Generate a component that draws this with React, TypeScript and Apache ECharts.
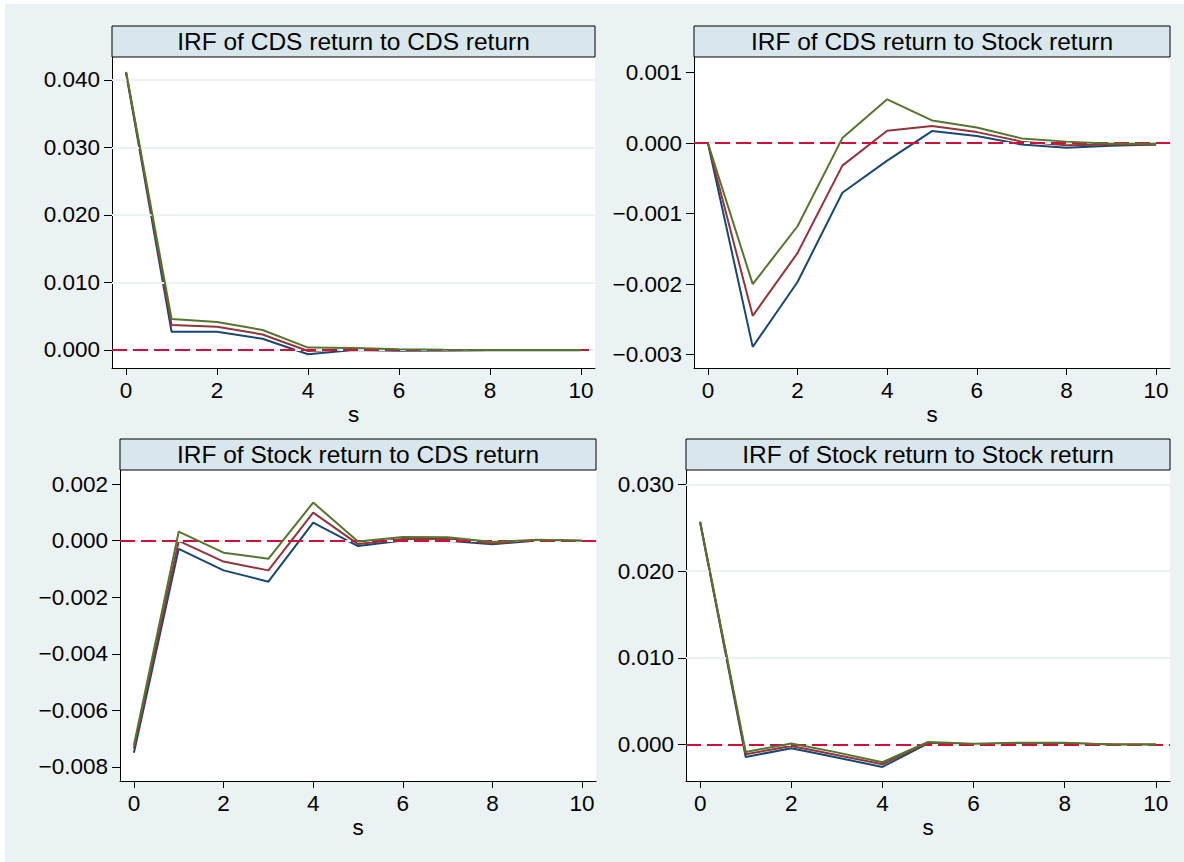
import React, { useEffect, useRef } from "react";
import * as echarts from "echarts";

const steps = [0, 1, 2, 3, 4, 5, 6, 7, 8, 9, 10];
const xTicks = [0, 2, 4, 6, 8, 10];

const titles = [
  "IRF of CDS return to CDS return",
  "IRF of CDS return to Stock return",
  "IRF of Stock return to CDS return",
  "IRF of Stock return to Stock return",
];

// Panel 1: CDS return -> CDS return
const cdsCdsLower = [0.041, 0.0027, 0.0027, 0.00167, -0.00064, 0.0, -0.0001, -0.00006, -0.00005, -0.00004, -0.00003];
const cdsCdsIrf = [0.0411, 0.0037, 0.00345, 0.0023, -0.00015, 0.0001, 0.0, -0.00003, -0.00002, -0.00002, -0.00001];
const cdsCdsUpper = [0.0412, 0.00459, 0.00415, 0.00296, 0.00035, 0.0003, 0.0001, 0.00002, 0.00001, 0.0, 0.0];

// Panel 2: CDS return -> Stock return
const cdsStockLower = [0, -0.00289, -0.00197, -0.000705, -0.00025, 0.00017, 0.0001, -0.00002, -0.000066, -0.00004, -0.00002];
const cdsStockIrf = [0, -0.00245, -0.00156, -0.00032, 0.000175, 0.00024, 0.000155, 0.00002, -0.00003, -0.00002, -0.00002];
const cdsStockUpper = [0, -0.002, -0.00118, 0.00007, 0.00062, 0.00032, 0.00022, 0.000066, 0.00002, -0.00001, -0.00001];

// Panel 3: Stock return -> CDS return
const stockCdsLower = [-0.0075, -0.00029, -0.00105, -0.00145, 0.00064, -0.00019, 0.00001, 0.0, -0.00013, 0.00001, -0.00001];
const stockCdsIrf = [-0.00735, -0.00001, -0.00074, -0.00105, 0.00099, -0.00012, 0.00006, 0.00006, -0.0001, 0.00002, 0.0];
const stockCdsUpper = [-0.00723, 0.00032, -0.000425, -0.00064, 0.00135, -0.00003, 0.00013, 0.00012, -0.00005, 0.00003, 0.0];

// Panel 4: Stock return -> Stock return
const stockStockLower = [0.0256, -0.00143, -0.00043, -0.0015, -0.00258, 0.00015, 0.00001, 0.0001, 0.0001, 0.0, -0.00001];
const stockStockIrf = [0.02565, -0.00112, -0.00016, -0.0012, -0.00227, 0.00022, 0.00005, 0.00015, 0.00015, 0.00001, 0.0];
const stockStockUpper = [0.0257, -0.00085, 0.00012, -0.0009, -0.00204, 0.0003, 0.0001, 0.00022, 0.00022, 0.00002, 0.0];

const yTicks1 = [0, 0.01, 0.02, 0.03, 0.04];
const yTicks2 = [-0.003, -0.002, -0.001, 0, 0.001];
const yTicks3 = [-0.008, -0.006, -0.004, -0.002, 0, 0.002];
const yTicks4 = [0, 0.01, 0.02, 0.03];

const FONT = '"Liberation Sans", Arial, Helvetica, sans-serif';
const NAVY = "#1a476f";
const MAROON = "#90353b";
const GREEN = "#55752f";
const BG = "#eaf2f3";
const GRIDLINE = "#eaf2f3";
const ZERO = "#d0103a";

const panels = [
  { grid: { left: 112, top: 57, width: 483, height: 311 }, y: [-0.00267, 0.0434], ticks: yTicks1, series: [cdsCdsLower, cdsCdsIrf, cdsCdsUpper], title: titles[0] },
  { grid: { left: 694, top: 57, width: 476, height: 311 }, y: [-0.00319, 0.00122], ticks: yTicks2, series: [cdsStockLower, cdsStockIrf, cdsStockUpper], title: titles[1] },
  { grid: { left: 120, top: 470, width: 476, height: 311 }, y: [-0.0085, 0.0025], ticks: yTicks3, series: [stockCdsLower, stockCdsIrf, stockCdsUpper], title: titles[2] },
  { grid: { left: 686, top: 470, width: 484, height: 311 }, y: [-0.0042, 0.03165], ticks: yTicks4, series: [stockStockLower, stockStockIrf, stockStockUpper], title: titles[3] },
];

const fmtY = (v: number) => {
  const s = Math.abs(v) < 1e-12 ? "0.000" : v.toFixed(3);
  return s.replace("-", "\u2212");
};

export default function App() {
  const ref = useRef<HTMLDivElement>(null);
  useEffect(() => {
    if (!ref.current) return;
    const chart = echarts.init(ref.current, undefined, { renderer: "svg" });
    const grids: any[] = [];
    const xAxes: any[] = [];
    const yAxes: any[] = [];
    const series: any[] = [];
    const graphics: any[] = [
      { type: "rect", z: -100, shape: { x: 5, y: 4, width: 1179, height: 858 }, style: { fill: BG } },
    ];
    const colors = [NAVY, MAROON, GREEN];
    const names = ["lower", "irf", "upper"];
    panels.forEach((p, i) => {
      grids.push({ ...p.grid, show: true, backgroundColor: "#ffffff", borderWidth: 0, containLabel: false });
      xAxes.push({
        gridIndex: i,
        type: "value",
        min: -0.31,
        max: 10.31,
        axisLine: { show: true, onZero: false, lineStyle: { color: "#000", width: 1 } },
        axisTick: { show: true, length: 7, customValues: xTicks, lineStyle: { color: "#000", width: 1 } },
        axisLabel: { customValues: xTicks, margin: 11, fontSize: 22.5, fontFamily: FONT, color: "#000" },
        splitLine: { show: false },
        name: "s",
        nameLocation: "middle",
        nameGap: 35,
        nameTextStyle: { fontSize: 22.5, fontFamily: FONT, color: "#000" },
      });
      yAxes.push({
        gridIndex: i,
        type: "value",
        min: p.y[0],
        max: p.y[1],
        axisLine: { show: true, onZero: false, lineStyle: { color: "#000", width: 1 } },
        axisTick: { show: true, length: 8, customValues: p.ticks, lineStyle: { color: "#000", width: 1 } },
        axisLabel: { customValues: p.ticks, margin: 12, fontSize: 22.5, fontFamily: FONT, color: "#000", formatter: fmtY },
        splitLine: { show: false },
      });
      series.push({
        type: "line",
        xAxisIndex: i,
        yAxisIndex: i,
        z: 1,
        silent: true,
        symbol: "none",
        lineStyle: { width: 0, opacity: 0 },
        data: [[0, 0]],
        markLine: {
          silent: true,
          symbol: ["none", "none"],
          label: { show: false },
          animation: false,
          data: [
            ...p.ticks.map((v) => ({ yAxis: v, lineStyle: { color: GRIDLINE, width: 2, type: "solid" } })),
            { yAxis: 0, lineStyle: { color: ZERO, width: 2, type: [15, 6] } },
          ],
        },
      });
      p.series.forEach((arr, k) => {
        series.push({
          type: "line",
          name: names[k],
          xAxisIndex: i,
          yAxisIndex: i,
          z: 3 + k,
          symbol: "none",
          lineStyle: { color: colors[k], width: 2 },
          itemStyle: { color: colors[k] },
          data: steps.map((s, j) => [s, arr[j]]),
        });
      });
      const g = p.grid;
      graphics.push({
        type: "rect",
        z: 10,
        shape: { x: g.left, y: g.top - 31, width: g.width, height: 31 },
        style: { fill: "#d9e6eb", stroke: "#000", lineWidth: 1 },
      });
      graphics.push({
        type: "text",
        z: 11,
        x: g.left + g.width / 2,
        y: g.top - 16,
        style: { text: p.title, fontSize: 24.5, fontFamily: FONT, fill: "#000", align: "center", verticalAlign: "middle" },
      });
    });
    chart.setOption({
      animation: false,
      backgroundColor: "#ffffff",
      grid: grids,
      xAxis: xAxes,
      yAxis: yAxes,
      series,
      graphic: graphics,
    });
    return () => chart.dispose();
  }, []);
  return <div ref={ref} style={{ position: "fixed", left: 0, top: 0, width: 1184, height: 862 }} />;
}
